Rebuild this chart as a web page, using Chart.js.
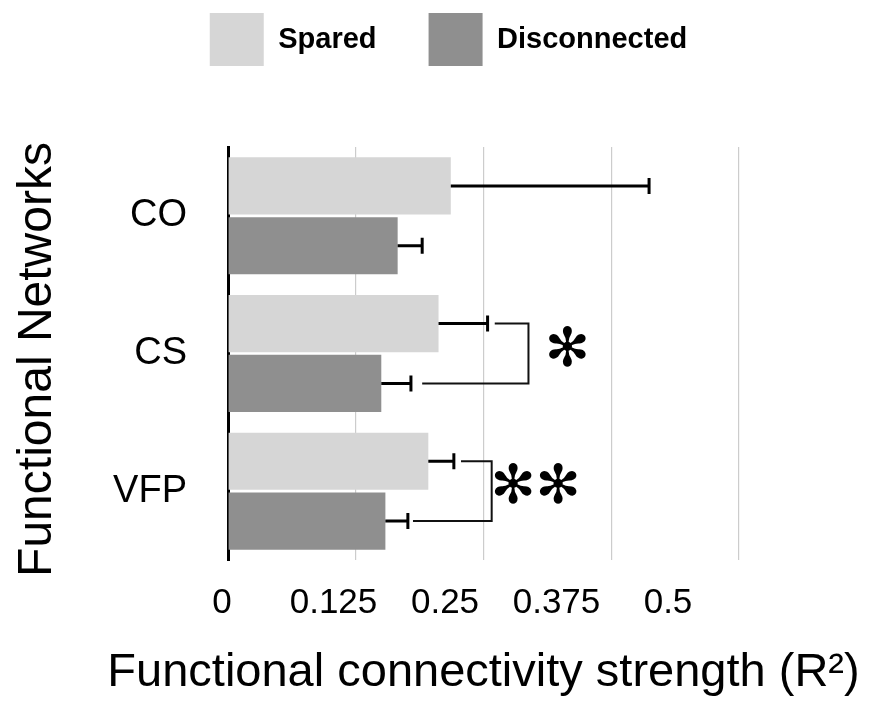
<!DOCTYPE html>
<html>
<head>
<meta charset="utf-8">
<script src="https://cdn.jsdelivr.net/npm/chart.js@4/dist/chart.umd.min.js"></script>
<style>
  html, body { margin: 0; padding: 0; background: #ffffff; }
  canvas { display: block; }
</style>
</head>
<body>
<canvas id="chart" width="881" height="703"></canvas>
<script>
// Functional connectivity strength per network, spared vs disconnected
const categories = ['CO', 'CS', 'VFP'];
const sparedValues = [0.218, 0.206, 0.196];
const sparedErrors = [0.194, 0.048, 0.025];
const disconnectedValues = [0.166, 0.150, 0.154];
const disconnectedErrors = [0.024, 0.029, 0.022];

// Axis ticks and titles
const xTickValues = [0, 0.125, 0.25, 0.375, 0.5];
const xTickLabels = ['0', '0.125', '0.25', '0.375', '0.5'];
const xAxisTitle = 'Functional connectivity strength (R²)';
const yAxisTitle = 'Functional Networks';

// Significance brackets (value-axis units) and markers
const significance = ['', '✻', '✻✻'];
const bracketFromSpared = [null, 0.261, 0.228];
const bracketFromDisconnected = [null, 0.190, 0.181];
const bracketAt = [null, 0.294, 0.258];
const markerAt = [null, 0.332, 0.301];

const FONT = '"Liberation Sans", Arial, Helvetica, sans-serif';

// One-sided error bars drawn from each bar's end
const errorBars = {
  id: 'errorBars',
  afterDatasetsDraw(chart) {
    const ctx = chart.ctx;
    const xs = chart.scales.x;
    chart.data.datasets.forEach((ds, i) => {
      const meta = chart.getDatasetMeta(i);
      meta.data.forEach((bar, j) => {
        const end = xs.getPixelForValue(ds.data[j] + ds.errors[j]);
        ctx.save();
        ctx.strokeStyle = '#000';
        ctx.lineWidth = 3;
        ctx.beginPath();
        ctx.moveTo(bar.x, bar.y);
        ctx.lineTo(end, bar.y);
        ctx.moveTo(end, bar.y - 8);
        ctx.lineTo(end, bar.y + 8);
        ctx.stroke();
        ctx.restore();
      });
    });
  }
};

// Brackets joining the two bars of a network, with significance markers
const sigBrackets = {
  id: 'sigBrackets',
  afterDatasetsDraw(chart) {
    const ctx = chart.ctx;
    const xs = chart.scales.x;
    const spared = chart.getDatasetMeta(0).data;
    const disc = chart.getDatasetMeta(1).data;
    significance.forEach((mark, j) => {
      if (!mark) return;
      const ys = spared[j].y;
      const yd = disc[j].y;
      const x1 = xs.getPixelForValue(bracketFromSpared[j]);
      const xb = xs.getPixelForValue(bracketAt[j]);
      const x2 = xs.getPixelForValue(bracketFromDisconnected[j]);
      ctx.save();
      ctx.strokeStyle = '#111';
      ctx.lineWidth = 2;
      ctx.beginPath();
      ctx.moveTo(x1, ys);
      ctx.lineTo(xb, ys);
      ctx.lineTo(xb, yd);
      ctx.lineTo(x2, yd);
      ctx.stroke();
      ctx.fillStyle = '#000';
      ctx.font = '54px "DejaVu Sans", sans-serif';
      ctx.textAlign = 'center';
      ctx.textBaseline = 'middle';
      ctx.fillText(mark, xs.getPixelForValue(markerAt[j]), (ys + yd) / 2 - 2);
      ctx.restore();
    });
  }
};

// Axis titles, drawn at full width (the built-in title would be squeezed to the axis length)
const axisTitles = {
  id: 'axisTitles',
  afterDraw(chart) {
    const ctx = chart.ctx;
    const area = chart.chartArea;
    const xs = chart.scales.xLabels;
    const ys = chart.scales.y;
    ctx.save();
    ctx.fillStyle = '#000';
    ctx.font = '47px ' + FONT;
    ctx.textAlign = 'center';
    ctx.textBaseline = 'middle';
    ctx.fillText(xAxisTitle, (area.left + area.right) / 2, xs.bottom - 30);
    ctx.translate(ys.left + 22, (area.top + area.bottom) / 2 + 6);
    ctx.rotate(-Math.PI / 2);
    ctx.font = '48px ' + FONT;
    ctx.fillText(yAxisTitle, 0, 0);
    ctx.restore();
  }
};

new Chart(document.getElementById('chart'), {
  type: 'bar',
  data: {
    labels: categories,
    datasets: [
      {
        label: 'Spared',
        data: sparedValues,
        errors: sparedErrors,
        backgroundColor: '#d6d6d6',
        borderWidth: 0
      },
      {
        label: 'Disconnected',
        data: disconnectedValues,
        errors: disconnectedErrors,
        backgroundColor: '#8f8f8f',
        borderWidth: 0
      }
    ]
  },
  options: {
    indexAxis: 'y',
    responsive: false,
    animation: false,
    devicePixelRatio: 1,
    categoryPercentage: 0.87,
    barPercentage: 0.955,
    layout: { padding: { top: -39, left: 16, right: 0, bottom: 0 } },
    font: { family: FONT },
    plugins: {
      legend: {
        position: 'top',
        align: 'center',
        weight: 3000,
        labels: {
          boxWidth: 54,
          boxHeight: 53,
          padding: 52,
          color: '#000',
          font: { family: FONT, weight: 'bold', size: 29 }
        }
      },
      title: {
        display: true,
        text: '',
        position: 'top',
        weight: 500,
        font: { size: 10, lineHeight: 1 },
        padding: { top: 0, bottom: 61 }
      },
      tooltip: { enabled: false }
    },
    scales: {
      x: {
        type: 'linear',
        position: 'bottom',
        min: 0,
        max: 0.5,
        afterBuildTicks: (s) => { s.ticks = xTickValues.map(v => ({ value: v })); },
        afterFit: (s) => { s.height = 0; },
        grid: {
          drawTicks: false,
          lineWidth: 1.2,
          color: (c) => (c.tick && c.tick.value === 0 ? 'rgba(0,0,0,0)' : '#cccccc')
        },
        border: { display: false },
        ticks: { display: false }
      },
      xLabels: {
        type: 'linear',
        position: 'bottom',
        min: 0.006727,
        max: 0.5796,
        afterBuildTicks: (s) => { s.ticks = xTickValues.map(v => ({ value: v })); },
        afterFit: (s) => { s.height = 143; },
        grid: { display: false, drawTicks: false },
        border: { display: false },
        ticks: {
          autoSkip: false,
          maxRotation: 0,
          padding: 22,
          color: '#000',
          font: { family: FONT, size: 35 },
          callback: (v, i) => xTickLabels[i]
        },
        title: { display: false }
      },
      y: {
        type: 'category',
        position: 'left',
        z: 1,
        afterFit: (s) => { s.width = 212; },
        grid: { display: false, drawTicks: false },
        border: { display: true, color: '#000', width: 3 },
        ticks: {
          padding: 41,
          color: '#000',
          font: { family: FONT, size: 38 }
        },
        title: { display: false }
      },
      rightSpace: {
        type: 'linear',
        position: 'right',
        afterFit: (s) => { s.width = 142; },
        grid: { display: false, drawTicks: false },
        border: { display: false },
        ticks: { display: false }
      }
    }
  },
  plugins: [errorBars, sigBrackets, axisTitles]
});
</script>
</body>
</html>
